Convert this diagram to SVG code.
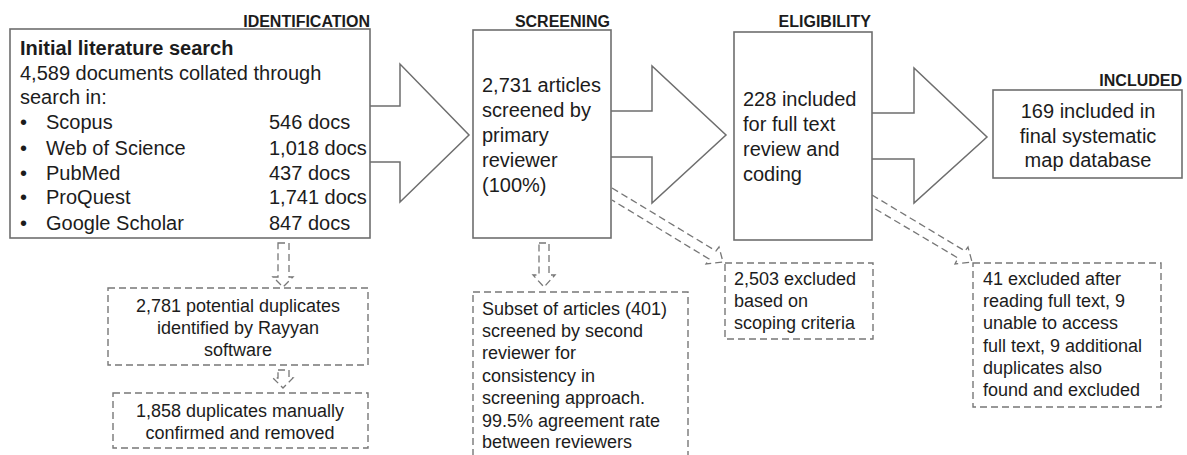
<svg xmlns="http://www.w3.org/2000/svg" width="1187" height="455" viewBox="0 0 1187 455">
<style>
text{font-family:"Liberation Sans",Arial,sans-serif;fill:#1c1c1c}
.t{font-size:20px}
.s{font-size:18px}
.h{font-size:16px;font-weight:bold;text-anchor:end}
.b{font-weight:bold}
.c{text-anchor:middle}
.box{fill:#fff;stroke:#6e6e6e;stroke-width:1.6}
.dbox{fill:#fff;stroke:#777;stroke-width:1.4;stroke-dasharray:7 4}
.arr{fill:#fff;stroke:#6e6e6e;stroke-width:1.5;stroke-linejoin:miter}
.darr{fill:none;stroke:#777;stroke-width:1.3;stroke-dasharray:7 4}
</style>
<rect width="1187" height="455" fill="#fff"/>
<g id="connectors">
<polyline class="arr" points="370,106 400,106 400,64 469,135 400,202 400,162 370,162"/>
<polyline class="arr" points="611,111 652,111 652,66 726,135 652,203 652,157 611,157"/>
<polyline class="arr" points="872,113 914,113 914,68 987,137 914,203 914,159 872,159"/>
<polygon class="darr" points="278,243 289,243 289,277 293,277 283,287 273,277 278,277"/>
<polygon class="darr" points="278,370 289,370 289,378 293,378 283,388 273,378 278,378"/>
<polygon class="darr" points="539,243 549,243 549,275 555,275 544,287 533,275 539,275"/>
<polyline class="darr" points="612,188 716,251 719,247 723,262 706,264 709,259 612,200"/>
<polyline class="darr" points="872,195 965,251 968,247 972,262 955,264 958,258 872,207"/>
</g>
<g id="identification">
<text class="h" x="370" y="27">IDENTIFICATION</text>
<rect class="box" x="10" y="29" width="360" height="209"/>
<text class="t b" x="20" y="55">Initial literature search</text>
<text class="t" x="20" y="80">4,589 documents collated through</text>
<text class="t" x="20" y="104">search in:</text>
<text class="t" x="20" y="129">•</text><text class="t" x="46" y="129">Scopus</text><text class="t" x="269" y="129">546 docs</text>
<text class="t" x="20" y="155">•</text><text class="t" x="46" y="155">Web of Science</text><text class="t" x="269" y="155">1,018 docs</text>
<text class="t" x="20" y="180">•</text><text class="t" x="46" y="180">PubMed</text><text class="t" x="269" y="180">437 docs</text>
<text class="t" x="20" y="204">•</text><text class="t" x="46" y="204">ProQuest</text><text class="t" x="269" y="204">1,741 docs</text>
<text class="t" x="20" y="230">•</text><text class="t" x="46" y="230">Google Scholar</text><text class="t" x="269" y="230">847 docs</text>
</g>
<g id="screening">
<text class="h" x="610" y="27">SCREENING</text>
<rect class="box" x="473" y="30" width="138" height="208"/>
<text class="t" x="482" y="92">2,731 articles</text>
<text class="t" x="482" y="117">screened by</text>
<text class="t" x="482" y="142">primary</text>
<text class="t" x="482" y="167">reviewer</text>
<text class="t" x="482" y="192">(100%)</text>
</g>
<g id="eligibility">
<text class="h" x="871" y="27">ELIGIBILITY</text>
<rect class="box" x="734" y="32" width="138" height="208"/>
<text class="t" x="743" y="106">228 included</text>
<text class="t" x="743" y="131">for full text</text>
<text class="t" x="743" y="156">review and</text>
<text class="t" x="743" y="181">coding</text>
</g>
<g id="included">
<text class="h" x="1182" y="86">INCLUDED</text>
<rect class="box" x="993" y="90" width="189" height="88"/>
<text class="t c" x="1088" y="118">169 included in</text>
<text class="t c" x="1088" y="143">final systematic</text>
<text class="t c" x="1088" y="167">map database</text>
</g>
<g id="duplicates">
<rect class="dbox" x="108" y="288" width="260" height="77"/>
<text class="s c" x="238" y="312">2,781 potential duplicates</text>
<text class="s c" x="238" y="334">identified by Rayyan</text>
<text class="s c" x="238" y="356">software</text>
</g>
<g id="removed">
<rect class="dbox" x="113" y="393" width="255" height="55"/>
<text class="s c" x="240" y="417">1,858 duplicates manually</text>
<text class="s c" x="240" y="439">confirmed and removed</text>
</g>
<g id="subset">
<rect class="dbox" x="473" y="292" width="215" height="175"/>
<text class="s" x="482" y="315">Subset of articles (401)</text>
<text class="s" x="482" y="337">screened by second</text>
<text class="s" x="482" y="359">reviewer for</text>
<text class="s" x="482" y="382">consistency in</text>
<text class="s" x="482" y="404">screening approach.</text>
<text class="s" x="482" y="427">99.5% agreement rate</text>
<text class="s" x="482" y="448">between reviewers</text>
</g>
<g id="excluded-screening">
<rect class="dbox" x="725" y="263" width="148" height="76"/>
<text class="s" x="734" y="285">2,503 excluded</text>
<text class="s" x="734" y="307">based on</text>
<text class="s" x="734" y="329">scoping criteria</text>
</g>
<g id="excluded-eligibility">
<rect class="dbox" x="973" y="263" width="188" height="144"/>
<text class="s" x="983" y="285">41 excluded after</text>
<text class="s" x="983" y="307">reading full text, 9</text>
<text class="s" x="983" y="329">unable to access</text>
<text class="s" x="983" y="352">full text, 9 additional</text>
<text class="s" x="983" y="374">duplicates also</text>
<text class="s" x="983" y="396">found and excluded</text>
</g>
</svg>
